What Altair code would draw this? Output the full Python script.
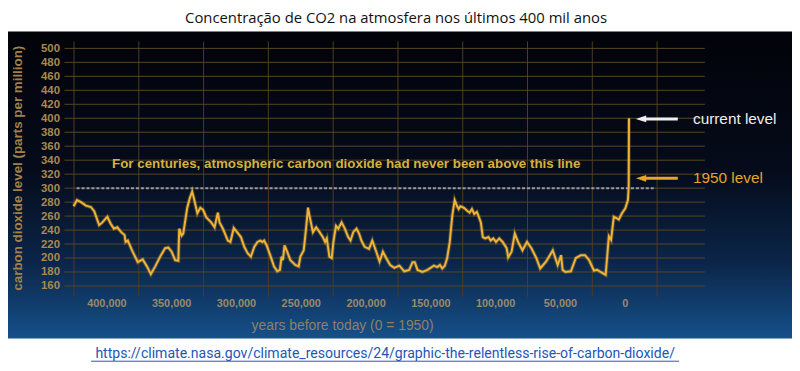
import altair as alt
import pandas as pd

# ---- data ----
years_k = [425.3, 422.7, 419.6, 415.8, 412.0, 409.4, 405.6, 403.1, 399.3, 396.7, 394.2, 391.6, 388.6, 386.0,
           385.2, 383.5, 380.2, 375.8, 372.0, 368.7, 365.7, 362.3, 358.5, 354.7, 352.2, 349.6, 347.0, 344.5,
           343.8, 342.0, 340.7, 337.6, 335.6, 333.8, 332.3, 329.8, 327.5, 325.4, 322.9, 319.1, 316.5, 314.0,
           312.7, 310.1, 306.3, 304.3, 301.7, 298.7, 296.2, 293.6, 291.0, 288.5, 285.9, 283.4, 281.3, 279.6,
           278.3, 276.3, 273.2, 270.7, 268.1, 266.1, 264.8, 263.8, 262.5, 260.5, 258.0, 254.2, 251.6, 250.3,
           247.7, 245.7, 244.4, 243.2, 240.6, 238.1, 235.5, 233.0, 231.2, 229.9, 227.9, 226.1, 224.8, 222.8,
           221.0, 218.5, 216.0, 213.4, 211.6, 209.5, 207.0, 205.0, 203.2, 200.7, 197.3, 194.8, 191.7, 189.2,
           186.6, 184.1, 181.0, 177.8, 173.9, 170.1, 166.3, 163.7, 162.0, 159.9, 156.1, 152.2, 147.2, 144.6,
           142.6, 140.8, 138.8, 137.0, 135.0, 133.1, 131.2, 129.3, 128.1, 126.8, 124.3, 123.0, 121.2, 119.7,
           117.9, 116.1, 114.1, 112.8, 111.0, 109.5, 107.7, 105.2, 103.4, 101.4, 99.3, 96.8, 94.2, 91.1,
           89.9, 87.3, 84.8, 82.3, 78.9, 75.4, 72.0, 68.2, 65.2, 60.6, 55.5, 51.7, 49.1, 47.9, 45.8, 41.5,
           37.7, 33.8, 30.6, 27.5, 23.7, 21.2, 18.6, 14.7, 12.2, 10.5, 8.4, 6.3, 4.6, 2.1, -0.5, -2.5,
           -3.1, -3.3]
co2_ppm = [274, 283, 280, 275, 273, 267, 247, 251, 259, 249, 242, 244, 237, 233,
           223, 225, 211, 194, 198, 188, 177, 188, 202, 214, 215, 209, 197, 196,
           242, 232, 235, 272, 286, 295, 284, 264, 272, 269, 258, 251, 244, 265,
           251, 242, 225, 223, 243, 236, 230, 216, 207, 202, 216, 223, 225, 223,
           225, 218, 202, 188, 181, 183, 202, 197, 218, 209, 197, 190, 188, 202,
           211, 246, 272, 260, 237, 244, 237, 230, 223, 228, 202, 200, 223, 246,
           242, 251, 242, 230, 225, 237, 242, 235, 225, 216, 213, 225, 209, 195,
           209, 200, 190, 186, 189, 181, 183, 194, 194, 183, 180, 183, 189, 187,
           190, 185, 189, 200, 223, 260, 283, 274, 270, 274, 272, 270, 267, 265,
           270, 263, 266, 260, 251, 230, 228, 230, 225, 228, 223, 228, 223, 214,
           201, 209, 235, 223, 211, 223, 214, 200, 185, 195, 211, 190, 204, 183, 180, 181,
           200, 204, 204, 197, 182, 183, 180, 176, 231, 226, 259, 257, 255, 264, 271, 283,
           302, 400]

x_label_values = [0, 50000, 100000, 150000, 200000, 250000, 300000, 350000, 400000]
x_grid_years = [-25000, 25000, 75000, 125000, 175000, 225000, 275000, 325000, 375000, 425000]
y_label_values = list(range(160, 501, 20))

title_text = "Concentração de CO2 na atmosfera nos últimos 400 mil anos"
link_text = "https://climate.nasa.gov/climate_resources/24/graphic-the-relentless-rise-of-carbon-dioxide/"
y_title = "carbon dioxide level (parts per million)"
x_title = "years before today (0 = 1950)"

ref_line = {"year": [423000], "end": [-24000], "ppm": [300]}
ref_note = {"year": [395700], "ppm": [334], "label": ["For centuries, atmospheric carbon dioxide had never been above this line"]}
markers = {"label": ["current level", "1950 level"], "ppm": [399, 314],
           "year": [-12600, -12600], "tail": [-41000, -41000], "text_year": [-52700, -52700]}

df = pd.DataFrame({"year": [k * 1000 for k in years_k], "ppm": co2_ppm})
vgrid_df = pd.DataFrame({"year": x_grid_years})
hgrid_df = pd.DataFrame({"ppm": y_label_values})

# ---- styles ----
FONT = "Liberation Sans"
TAN = "#a8894f"
GRID = "#4e3c22"
LINE = "#f2b233"
ORANGE = "#e4a52a"

x_scale = alt.Scale(domain=[-61900, 432400], reverse=True, nice=False, zero=False)
y_scale = alt.Scale(domain=[144.4, 509.9], nice=False, zero=False)
x_axis = alt.Axis(values=x_label_values, format=",.0f", labelExpr="format(datum.value, ',.0f')",
                  grid=False, title=None, domain=False,
                  ticks=False, labelColor="#9a8a68", labelFont=FONT, labelFontSize=11,
                  labelFontWeight="bold", labelPadding=1, labelFlush=False, zindex=2)
y_axis = alt.Axis(values=y_label_values, grid=False, title=None,
                  domain=False, ticks=False, labelColor=TAN, labelFont=FONT, labelFontSize=11.5,
                  labelFontWeight="bold", labelPadding=5, zindex=2)


def X(field):
    return alt.X(field, scale=x_scale, axis=x_axis, title=None)


def Y(field):
    return alt.Y(field, scale=y_scale, axis=y_axis, title=None)


one = pd.DataFrame({"a": [0]})

bg = alt.Chart(one).mark_rect(
    fill={"gradient": "linear", "x1": 0, "y1": 0, "x2": 0, "y2": 1,
          "stops": [{"offset": 0, "color": "#020309"},
                    {"offset": 0.45, "color": "#050b1a"},
                    {"offset": 0.75, "color": "#0b2548"},
                    {"offset": 1, "color": "#16508a"}]}
).encode(x=alt.value(-57), x2=alt.value(735), y=alt.value(-10), y2=alt.value(300))

vgrid = alt.Chart(vgrid_df).mark_rule(color=GRID, strokeWidth=1).encode(x=X("year:Q"))
hgrid = alt.Chart(hgrid_df).mark_rule(color="#5a4524", strokeWidth=1).encode(y=Y("ppm:Q"))

glow = alt.Chart(df).mark_line(color="#f5c24a", strokeWidth=4, opacity=0.25).encode(x=X("year:Q"), y=Y("ppm:Q"))
base_line = alt.Chart(df).mark_line(color=LINE, strokeWidth=2).encode(x=X("year:Q"), y=Y("ppm:Q"))

dashed = alt.Chart(pd.DataFrame(ref_line)).mark_rule(
    color="#a9adb5", strokeWidth=2, strokeDash=[3, 2], opacity=0.85
).encode(x=X("year:Q"), x2="end:Q", y=Y("ppm:Q"))

note = alt.Chart(pd.DataFrame(ref_note)).mark_text(
    align="left", baseline="middle", font=FONT, fontSize=13.5, fontWeight="bold", color="#d4b23c"
).encode(x=X("year:Q"), y=Y("ppm:Q"), text="label:N")

mk = pd.DataFrame(markers)
mk_color = alt.Color("label:N", scale=alt.Scale(domain=["current level", "1950 level"],
                                                range=["#eeeeee", ORANGE]), legend=None)
arrow_shaft = alt.Chart(mk).mark_rule(strokeWidth=3).encode(
    x=X("year:Q"), x2="tail:Q", y=Y("ppm:Q"), color=mk_color)
arrow_head = alt.Chart(mk).mark_point(
    shape="M-1,0L1,-0.65L1,0.65Z", filled=True, size=110, opacity=1
).encode(x=X("year:Q"), y=Y("ppm:Q"), color=mk_color)
mk_text = alt.Chart(mk).mark_text(align="left", baseline="middle", font=FONT, fontSize=15.5).encode(
    x=X("text_year:Q"), y=Y("ppm:Q"), text="label:N", color=mk_color)

title = alt.Chart(one).mark_text(text=title_text, font="Open Sans", fontSize=15, color="#111111",
                                 align="center", baseline="middle").encode(x=alt.value(335), y=alt.value(-24))
link = alt.Chart(one).mark_text(text=link_text, font="Roboto", fontSize=14.2, color="#2256b8",
                                align="center", baseline="middle").encode(x=alt.value(324), y=alt.value(316))
underline = alt.Chart(one).mark_rule(color="#2256b8", strokeWidth=1).encode(
    x=alt.value(27), x2=alt.value(621), y=alt.value(323))
ytitle = alt.Chart(one).mark_text(text=y_title, font=FONT, fontSize=13.5, fontWeight="bold", color="#a0814c",
                                  angle=270, align="center", baseline="middle").encode(x=alt.value(-47), y=alt.value(128))
xtitle = alt.Chart(one).mark_text(text=x_title, font=FONT, fontSize=14, color="#8f8068",
                                  align="center", baseline="middle").encode(x=alt.value(281), y=alt.value(287))

chart = alt.layer(
    bg, vgrid, hgrid, glow, base_line, dashed, note, arrow_shaft, arrow_head, mk_text, title, link, underline,
    ytitle, xtitle
).resolve_scale(color="independent").properties(
    width=647, height=258,
    autosize=alt.AutoSizeParams(type="none"),
    padding={"left": 57, "top": 32, "right": 88, "bottom": 65},
    background="white",
).configure_view(stroke=None)

chart.save("out.html", embed_options={"renderer": "svg", "actions": False})
